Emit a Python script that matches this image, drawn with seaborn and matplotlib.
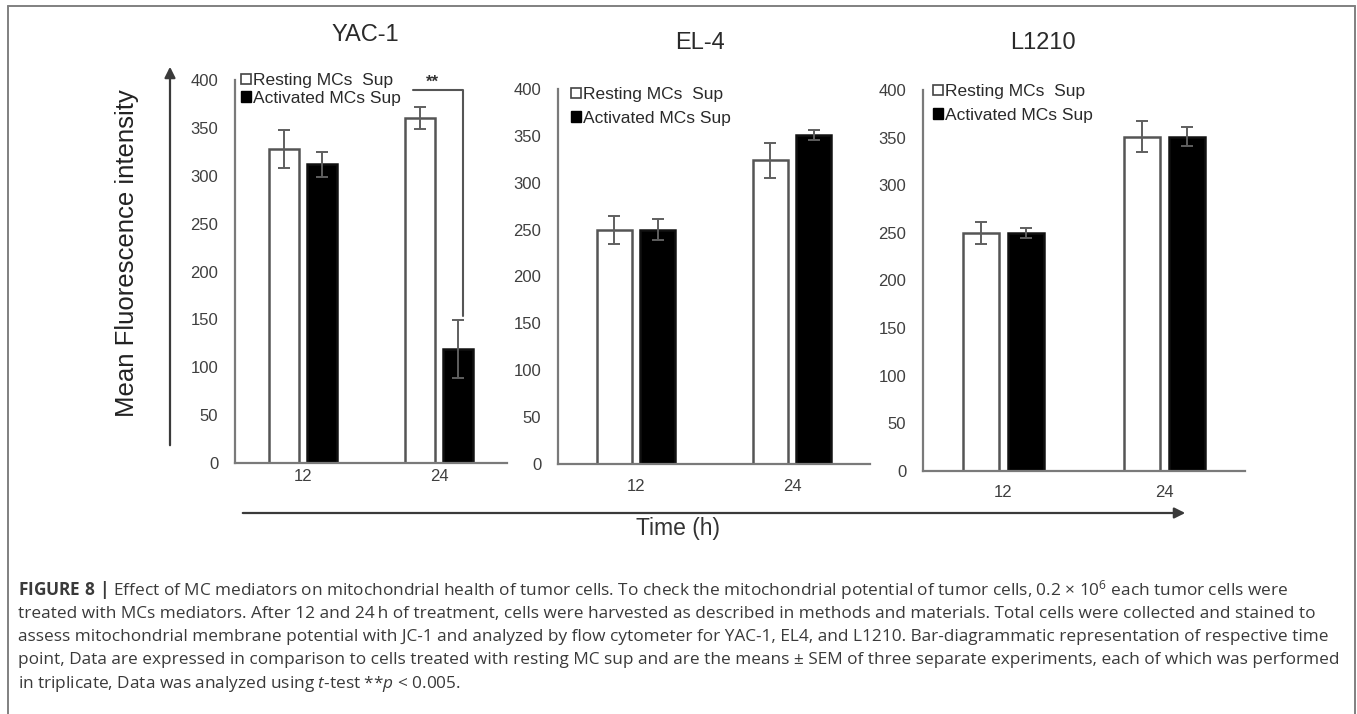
import matplotlib
matplotlib.use('Agg')
import matplotlib.pyplot as plt
import seaborn as sns
import pandas as pd
from matplotlib.patches import Patch, FancyArrowPatch
from matplotlib.lines import Line2D

# ---------------- data ----------------
panels = ["YAC-1", "EL-4", "L1210"]
time_points = ["12", "24"]
groups = ["Resting MCs  Sup", "Activated MCs Sup"]
resting_mean = [[328, 360], [250, 324], [250, 351]]
resting_sem = [[20, 11.5], [15, 18.5], [11.5, 16.5]]
activated_mean = [[312, 119], [250, 351], [250, 351]]
activated_sem = [[13, 30], [11, 5], [5, 10]]
yticks = [0, 50, 100, 150, 200, 250, 300, 350, 400]
ylabel = "Mean Fluorescence intensity"
xlabel = "Time (h)"
caption_lines = [
    r"$\mathbf{FIGURE\ 8\ |}$ Effect of MC mediators on mitochondrial health of tumor cells. To check the mitochondrial potential of tumor cells, 0.2 $\times$ 10$^{6}$ each tumor cells were",
    "treated with MCs mediators. After 12 and 24\u2009h of treatment, cells were harvested as described in methods and materials. Total cells were collected and stained to",
    "assess mitochondrial membrane potential with JC-1 and analyzed by flow cytometer for YAC-1, EL4, and L1210. Bar-diagrammatic representation of respective time",
    "point, Data are expressed in comparison to cells treated with resting MC sup and are the means \u00b1 SEM of three separate experiments, each of which was performed",
    r"in triplicate, Data was analyzed using $\it{t}$-test **$\it{p}$ < 0.005.",
]

# ---------------- style ----------------
sns.set_theme(style="white")
plt.rcParams['font.family'] = ['Liberation Sans', 'DejaVu Sans']
plt.rcParams['mathtext.fontset'] = 'custom'
plt.rcParams['mathtext.rm'] = 'Open Sans'
plt.rcParams['mathtext.it'] = 'Open Sans:italic'
plt.rcParams['mathtext.bf'] = 'Open Sans:bold'

W, H = 1357, 714
fig = plt.figure(figsize=(W / 100, H / 100), dpi=100)
fig.patch.set_facecolor('white')

def fx(x):
    return x / W

def fy(y):
    return 1 - y / H

# pixel layout: (left, right, zero_y, top_y)
rects = [(235, 507, 463, 80), (558, 870, 464, 89), (923, 1245, 471, 90)]
title_pos = [(365, 35), (700, 43), (1043, 43)]
xpads = [4, 11, 10]
legend_anchor = [(241, 73), (571, 87), (933, 84)]
legend_spacing = [0.15, 0.5, 0.5]

axis_col = '#7a7a7a'
for i, name in enumerate(panels):
    l, r, z, t = rects[i]
    ax = fig.add_axes([fx(l), fy(z), (r - l) / W, (z - t) / H])
    df = pd.DataFrame({
        'time': time_points * 2,
        'group': [groups[0]] * 2 + [groups[1]] * 2,
        'value': resting_mean[i] + activated_mean[i],
    })
    sns.barplot(data=df, x='time', y='value', hue='group', order=time_points,
                hue_order=groups, palette=['white', 'black'], width=0.56, gap=0.2,
                errorbar=None, legend=False, linewidth=1.8, edgecolor='#555555', ax=ax)
    for bar in ax.containers[1]:
        bar.set_edgecolor('#111111')
    for cont, means, sems in [(ax.containers[0], resting_mean[i], resting_sem[i]),
                              (ax.containers[1], activated_mean[i], activated_sem[i])]:
        xs = [b.get_x() + b.get_width() / 2 for b in cont]
        ax.errorbar(xs, means, yerr=sems, fmt='none', ecolor='#5f5f5f',
                    elinewidth=1.4, capsize=4.5, capthick=1.4, zorder=4)
    ax.set_xlim(-0.5, 1.5)
    ax.set_ylim(0, 400)
    ax.set_yticks(yticks)
    ax.set_xlabel('')
    ax.set_ylabel('')
    for s in ['top', 'right']:
        ax.spines[s].set_visible(False)
    for s in ['left', 'bottom']:
        ax.spines[s].set_color(axis_col)
        ax.spines[s].set_linewidth(1.6)
    ax.tick_params(axis='y', length=0, pad=12, labelsize=12, labelcolor='#3f3f3f')
    ax.tick_params(axis='x', length=0, pad=xpads[i], labelsize=12, labelcolor='#3f3f3f')
    ax.patch.set_alpha(0)
    tx, ty = title_pos[i]
    fig.text(fx(tx), fy(ty), name, fontsize=17, ha='center', va='center', color='#2a2a2a')
    handles = [Patch(facecolor='white', edgecolor='#444444', linewidth=1.2),
               Patch(facecolor='black', edgecolor='black')]
    lx, ly = legend_anchor[i]
    ax.legend(handles=handles, labels=groups, loc='upper left',
              bbox_to_anchor=(fx(lx), fy(ly)), bbox_transform=fig.transFigure,
              frameon=False, fontsize=12.5, handlelength=0.55, handleheight=0.55,
              handletextpad=0.15, labelspacing=legend_spacing[i], borderaxespad=0,
              borderpad=0, labelcolor='#2a2a2a')
    if i == 0:
        c1 = ax.containers[1][1]
        xr = c1.get_x() + c1.get_width() / 2 + 0.035
        ybot = activated_mean[0][1] + activated_sem[0][1] + 5
        ytop = 389.5
        ax.plot([0.81, xr, xr], [ytop, ytop, ybot], color='#555555', lw=1.5,
                clip_on=False, zorder=5)
        ax.text(0.955, 398, '**', ha='center', va='center', fontsize=12,
                fontweight='bold', color='#333333', clip_on=False)

# axis titles and arrows
fig.text(fx(127), fy(253), ylabel, rotation=90, fontsize=18.5, ha='center', va='center',
         color='#222222')
fig.text(fx(678), fy(529), xlabel, fontsize=16.5, ha='center', va='center', color='#333333')
fig.add_artist(FancyArrowPatch((fx(170), fy(448)), (fx(170), fy(64)),
                               transform=fig.transFigure, arrowstyle='-|>',
                               mutation_scale=16, color='#3a3a3a', lw=1.6))
fig.add_artist(FancyArrowPatch((fx(240), fy(513)), (fx(1188), fy(513)),
                               transform=fig.transFigure, arrowstyle='-|>',
                               mutation_scale=16, color='#3a3a3a', lw=1.6))

# caption (font size fitted so the 4th line spans the reference width)
cap_y = [590, 614, 637, 660, 684]
cap_texts = []
for txt, yy in zip(caption_lines, cap_y):
    cap_texts.append(fig.text(fx(18), fy(yy), txt, fontsize=11, ha='left', va='center',
                              color='#3a3a3a', family=['Open Sans', 'DejaVu Sans']))
renderer = fig.canvas.get_renderer()
w4 = cap_texts[3].get_window_extent(renderer).width
scale = (1333 - 18) / w4
for t_ in cap_texts:
    t_.set_fontsize(11 * scale)

# frame
frame_col = '#808080'
fig.add_artist(Line2D([fx(8), fx(1355)], [fy(6), fy(6)], transform=fig.transFigure,
                      color=frame_col, lw=1.4))
fig.add_artist(Line2D([fx(8), fx(8)], [fy(6), fy(714)], transform=fig.transFigure,
                      color=frame_col, lw=1.4))
fig.add_artist(Line2D([fx(1355), fx(1355)], [fy(6), fy(714)], transform=fig.transFigure,
                      color=frame_col, lw=1.4))

fig.savefig('out.png', dpi=100, facecolor='white')
